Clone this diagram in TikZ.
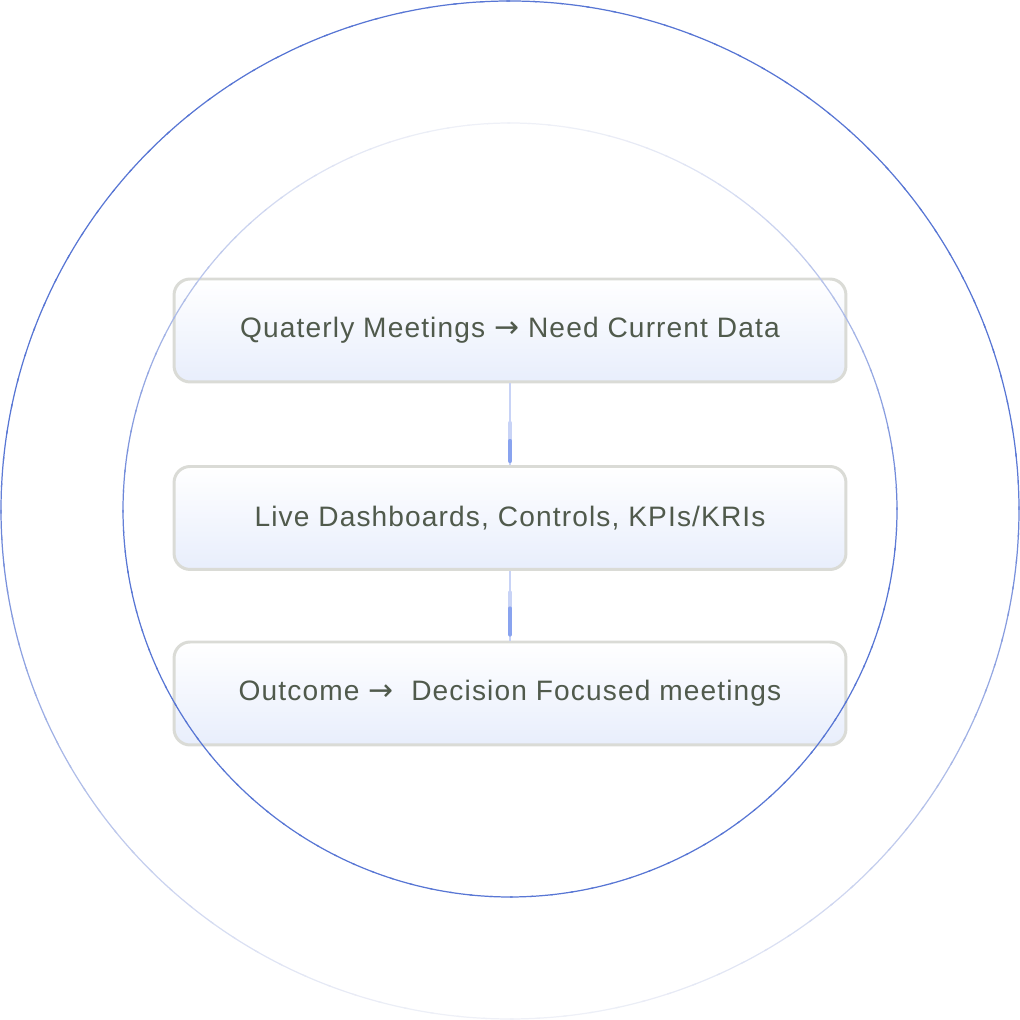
\documentclass[tikz,border=0pt]{standalone}
\usepackage{fontspec}
\setmainfont{Liberation Sans}[LetterSpace=4]
\newfontfamily\arrowfont{DejaVu Sans}
\newcommand{\toarr}{{\arrowfont\fontsize{17}{18}\selectfont →}}
\usetikzlibrary{arrows.meta, positioning, calc}

\definecolor{ringblue}{RGB}{88,118,212}
\definecolor{ringfaint}{RGB}{238,240,247}
\definecolor{boxedge}{RGB}{218,219,214}
\definecolor{boxblue}{RGB}{232,238,252}
\definecolor{labelgray}{RGB}{80,90,76}
\definecolor{linkblue}{RGB}{137,163,239}
\definecolor{linkpale}{RGB}{200,211,246}

\begin{document}
\begin{tikzpicture}[
    x=0.02cm, y=0.02cm,
    stepbox/.style={draw=boxedge, line width=1.7pt, rounded corners=0.32cm,
                    top color=white, bottom color=boxblue,
                    minimum width=13.44cm, minimum height=2.06cm,
                    font=\fontsize{16}{18}\selectfont, text=labelgray},
    ring/.style={line width=0.7pt},
    linkthin/.style={draw=linkpale, line width=0.6pt},
    linkbar/.style={line width=2.4pt, line cap=round}
  ]
  \useasboundingbox (0,0) rectangle (1020,1020);

  \node[stepbox] (q1) at (510,689.5) {Quaterly Meetings \toarr{} Need Current Data};
  \node[stepbox] (q2) at (510,502) {Live Dashboards, Controls, KPIs/KRIs};
  \node[stepbox] (q3) at (510,326.5) {Outcome \toarr\ \ Decision Focused meetings};

  \draw[linkthin] (q1.south) -- (q2.north);
  \draw[linkbar, linkpale] ($(q2.north)+(0,42)$) -- ($(q2.north)+(0,24)$);
  \draw[linkbar, linkblue] ($(q2.north)+(0,24)$) -- ($(q2.north)+(0,4)$);

  \draw[linkthin] (q2.south) -- (q3.north);
  \draw[linkbar, linkpale] ($(q3.north)+(0,48)$) -- ($(q3.north)+(0,32)$);
  \draw[linkbar, linkblue] ($(q3.north)+(0,32)$) -- ($(q3.north)+(0,6)$);

  \foreach \a in {0,3,...,357} {
    \pgfmathtruncatemacro{\mixo}{min(100, 90*(1+sin(\a+1.5)))}
    \pgfmathtruncatemacro{\mixi}{min(100, 90*(1-sin(\a+1.5)))}
    \draw[ring, ringblue!\mixo!ringfaint] (510,510) ++(\a:509)
      arc[start angle=\a, end angle=\a+3.4, radius=509];
    \draw[ring, ringblue!\mixi!ringfaint] (510,510) ++(\a:387)
      arc[start angle=\a, end angle=\a+3.4, radius=387];
  }
\end{tikzpicture}
\end{document}
